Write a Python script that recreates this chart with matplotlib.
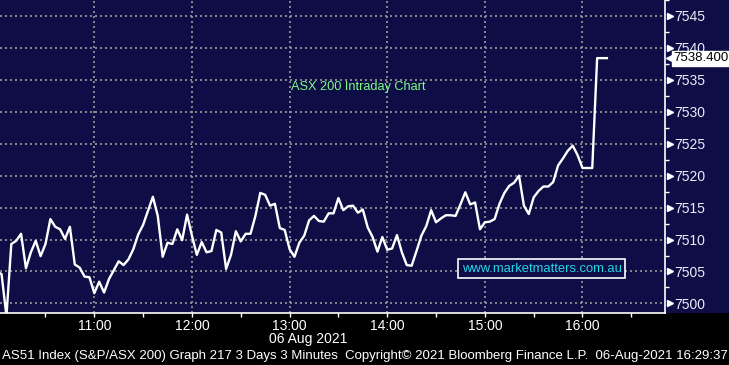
import matplotlib
matplotlib.use("Agg")
import matplotlib.pyplot as plt
import matplotlib.transforms as mtransforms
from matplotlib.patches import Rectangle
from matplotlib.ticker import MultipleLocator, FuncFormatter

# minutes after 10:00, 3 minute bars
minutes = list(range(0, 378, 3))
price = [
    7505.0, 7504.6, 7498.0, 7509.3, 7509.8, 7510.9, 7505.5, 7508.0, 7509.8, 7507.4,
    7509.3, 7513.2, 7512.0, 7511.6, 7510.1, 7512.0, 7506.1, 7505.6, 7504.2, 7504.1,
    7501.6, 7503.4, 7501.7, 7503.8, 7505.2, 7506.6, 7506.0, 7506.9, 7508.5, 7510.8,
    7512.3, 7514.5, 7516.7, 7513.7, 7507.3, 7509.5, 7509.3, 7511.6, 7509.9, 7513.9,
    7510.6, 7507.6, 7509.6, 7508.0, 7508.2, 7511.5, 7511.1, 7505.4, 7507.6, 7511.3,
    7509.7, 7510.9, 7510.9, 7513.7, 7517.3, 7517.0, 7515.3, 7515.6, 7511.8, 7511.5,
    7508.5, 7507.3, 7509.5, 7510.6, 7513.0, 7513.7, 7512.9, 7512.8, 7514.1, 7514.1,
    7516.5, 7514.6, 7515.2, 7515.3, 7514.2, 7514.7, 7511.9, 7510.4, 7508.1, 7510.4,
    7508.4, 7508.6, 7510.7, 7508.0, 7506.0, 7505.9, 7508.2, 7510.6, 7512.1, 7514.6,
    7512.7, 7513.3, 7513.8, 7513.8, 7513.7, 7515.5, 7517.4, 7515.5, 7515.8, 7511.6,
    7512.7, 7512.8, 7513.2, 7515.6, 7517.3, 7518.4, 7518.9, 7520.0, 7515.3, 7514.0,
    7516.6, 7517.6, 7518.3, 7518.3, 7519.0, 7521.6, 7522.7, 7523.9, 7524.7, 7523.2,
    7521.2, 7521.2, 7521.2, 7538.4, 7538.4, 7538.4,
]
last_price = 7538.4

title = "ASX 200 Intraday Chart"
website = "www.marketmatters.com.au"
date_label = "06 Aug 2021"
footer = ("AS51 Index (S&P/ASX 200) Graph 217 3 Days 3 Minutes  "
          "Copyright\u00a9 2021 Bloomberg Finance L.P.  06-Aug-2021 16:29:37")

NAVY = "#0f0d45"
plt.rcParams["font.family"] = ["Liberation Sans", "DejaVu Sans"]

fig = plt.figure(figsize=(7.29, 3.65), dpi=100, facecolor="black")
ax = fig.add_axes([0, 0.1425, 0.9122, 0.8575])
ax.set_facecolor(NAVY)
fig.patches.append(Rectangle((0.9122, 0.1425), 1 - 0.9122, 0.8575,
                             transform=fig.transFigure, fc=NAVY, ec="none", zorder=-1))

ax.plot(minutes, price, color="white", lw=1.7, zorder=3)

ax.set_xlim(2.05, 410.7)
ax.set_ylim(7498.5, 7547.5)

for s in ["left", "top"]:
    ax.spines[s].set_visible(False)
for s in ["right", "bottom"]:
    ax.spines[s].set_color("white")
    ax.spines[s].set_linewidth(1.2)

ax.xaxis.set_major_locator(MultipleLocator(60))
ax.xaxis.set_minor_locator(MultipleLocator(30))
ax.xaxis.set_major_formatter(FuncFormatter(lambda m, _: f"{int(m // 60) + 10}:00"))
ax.tick_params(axis="x", which="both", colors="white", length=3, width=1, pad=1.5,
               labelsize=10)

ax.yaxis.tick_right()
ax.yaxis.set_major_locator(MultipleLocator(5))
ax.yaxis.set_minor_locator(MultipleLocator(2.5))
ax.yaxis.set_major_formatter(FuncFormatter(lambda v, _: f"{v:.0f}"))
ax.tick_params(axis="y", which="major", length=0, pad=6.5, labelcolor="#e8eefa",
               labelsize=10)
ax.tick_params(axis="y", which="minor", colors="white", length=3, width=1)

ax.grid(which="major", color="#9a9a9a", linestyle=(0, (1.2, 1.8)), lw=1.2)

# triangle markers on the price axis
trans = mtransforms.blended_transform_factory(ax.transAxes, ax.transData)
yt = [v for v in ax.get_yticks() if 7498.5 <= v <= 7547.5]
ax.plot([1.0075] * len(yt), yt, ls="none", marker=">", ms=4.5, color="white",
        transform=trans, clip_on=False)

# last price tag
ax.plot([1.0075], [last_price], marker="<", ms=6, color="white",
        transform=trans, clip_on=False, zorder=5)
ax.text(1.0125, last_price, f"{last_price:.3f}", transform=trans, ha="left",
        va="center", color="black", fontsize=9.5, clip_on=False, zorder=6,
        bbox=dict(boxstyle="square,pad=0.12", fc="white", ec="white"))

ax.text(0.538, 0.722, title, transform=ax.transAxes, ha="center", va="center",
        color="#7cfc86", fontsize=9.2)
ax.text(0.8143, 0.142, website, transform=ax.transAxes, ha="center", va="center",
        color="#22d6e8", fontsize=9.4,
        bbox=dict(boxstyle="square,pad=0.25", fc=NAVY, ec="white", lw=1.2))

fig.text(0.4225, 0.0712, date_label, ha="center", va="center", color="white",
         fontsize=10)
fig.text(0.003, 0.0247, footer, ha="left", va="center", color="white", fontsize=9.5)

fig.savefig("out.png", dpi=100, facecolor="black")
